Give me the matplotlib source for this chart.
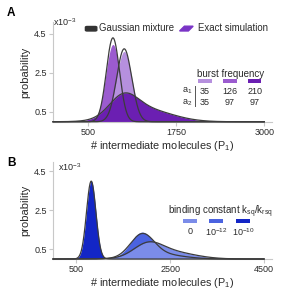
import numpy as np
import matplotlib
matplotlib.use('Agg')
import matplotlib.pyplot as plt
from matplotlib.patches import Rectangle, Polygon, FancyBboxPatch

plt.rcParams['font.family'] = ['Liberation Sans', 'DejaVu Sans']
plt.rcParams['mathtext.fontset'] = 'custom'
plt.rcParams['mathtext.rm'] = 'Liberation Sans'
plt.rcParams['mathtext.it'] = 'Liberation Sans:italic'
plt.rcParams['mathtext.bf'] = 'Liberation Sans:bold'

# ---------------- Panel A data (burst frequency) ----------------
a1_vals = ['35', '126', '210']
a2_vals = ['35', '97', '97']
a_colors = ['#b690de', '#9b5bcf', '#6b1fb2']
# Gaussian mixture components: means, sds, weights (probability in units of 1e-3)
a_gm_means = [[1011], [851], [1000, 1300]]
a_gm_sds = [[107], [93], [200, 380]]
a_gm_weights = [[1.0], [1.0], [0.5, 0.6]]
# exact simulation (fitted to the filled areas)
a_sim_means = [[1011], [851], [1000, 1300]]
a_sim_sds = [[111], [101], [200, 380]]
a_sim_weights = [[1.0], [1.0], [0.5, 0.6]]
a_draw_order = [1, 0, 2]
a_xticks = [500, 1750, 3000]

# ---------------- Panel B data (binding constant) ----------------
b_labels = ['0', '10$^{-12}$', '10$^{-10}$']
b_colors = ['#7b8ce9', '#4b63e0', '#1326c6']
b_gm_means = [[2020, 2450], [1900, 2250], [815]]
b_gm_sds = [[300, 520], [250, 480], [100]]
b_gm_weights = [[0.45, 0.5], [0.7, 0.3], [1.0]]
b_sim_means = [[2020, 2450], [1890, 2250], [815]]
b_sim_sds = [[300, 520], [235, 480], [100]]
b_sim_weights = [[0.45, 0.5], [0.7, 0.3], [1.0]]
b_draw_order = [1, 0, 2]
b_xticks = [500, 2500, 4500]

yticks = [0.5, 2.5, 4.5]


def mixture(x, means, sds, weights):
    y = np.zeros_like(x)
    for m, s, w in zip(means, sds, weights):
        y += w / (s * np.sqrt(2 * np.pi)) * np.exp(-(x - m) ** 2 / (2 * s ** 2))
    return y * 1e3


fig = plt.figure(figsize=(2.92, 2.96), dpi=100)
W, H = 292, 296


def px_axes(l, t, r, b):
    return fig.add_axes([l / W, 1 - b / H, (r - l) / W, (b - t) / H])


axA = px_axes(53, 22, 272, 121.75)
axB = px_axes(53, 162, 272, 259)

line_col = '#3c3c3c'
spine_col = '#c8c8c8'
txt_col = '#2a2a2a'


def style(ax, xmax, ymax, xticks):
    ax.set_xlim(0, xmax)
    ax.set_ylim(0, ymax)
    for s in ['top', 'right']:
        ax.spines[s].set_visible(False)
    for s in ['left', 'bottom']:
        ax.spines[s].set_color(spine_col)
        ax.spines[s].set_linewidth(0.8)
    ax.set_xticks(xticks)
    ax.set_xticklabels([str(t) for t in xticks])
    ax.set_yticks(yticks)
    ax.set_yticklabels([str(t) for t in yticks])
    ax.tick_params(axis='both', colors=spine_col, labelcolor=txt_col,
                   length=3, width=0.8, labelsize=6.5, pad=1.5)
    ax.set_ylabel('probability', fontsize=8, color=txt_col, labelpad=3)
    ax.set_xlabel('# intermediate molecules (P$_1$)', fontsize=7.8,
                  color=txt_col, labelpad=1.5)


# Panel A
xA = np.linspace(0, 3000, 1500)
for i in a_draw_order:
    ys = mixture(xA, a_sim_means[i], a_sim_sds[i], a_sim_weights[i])
    axA.fill_between(xA, 0, ys, color=a_colors[i], lw=0, zorder=2)
for i in a_draw_order:
    yg = mixture(xA, a_gm_means[i], a_gm_sds[i], a_gm_weights[i])
    axA.plot(xA, yg, color=line_col, lw=0.9, zorder=3, clip_on=False)
style(axA, 3110, 5.1, a_xticks)

# Panel B
xB = np.linspace(0, 4500, 1500)
for i in b_draw_order:
    ys = mixture(xB, b_sim_means[i], b_sim_sds[i], b_sim_weights[i])
    axB.fill_between(xB, 0, ys, color=b_colors[i], lw=0, zorder=2)
for i in b_draw_order:
    yg = mixture(xB, b_gm_means[i], b_gm_sds[i], b_gm_weights[i])
    axB.plot(xB, yg, color=line_col, lw=0.9, zorder=3, clip_on=False)
style(axB, 4670, 4.97, b_xticks)

# multiplier texts
axA.text(0.0, 1.0, 'x10$^{-3}$', transform=axA.transAxes, fontsize=6.5,
         ha='left', va='center', color=txt_col)
axB.text(0.025, 0.95, 'x10$^{-3}$', transform=axB.transAxes, fontsize=6.5,
         ha='left', va='center', color=txt_col)

# panel letters
fig.text(7 / W, 1 - 12.5 / H, 'A', fontsize=8.5, fontweight='bold', ha='left', va='center')
fig.text(7 / W, 1 - 163 / H, 'B', fontsize=8.5, fontweight='bold', ha='left', va='center')

# legend in A
tA = axA.transAxes
axA.add_patch(FancyBboxPatch((0.148, 0.91), 0.052, 0.045,
                             boxstyle='round,pad=0,rounding_size=0.008',
                             transform=tA, color='#333333', clip_on=False, zorder=5))
axA.text(0.208, 0.935, 'Gaussian mixture', transform=tA, fontsize=6.9,
         ha='left', va='center', color=txt_col)
axA.add_patch(Polygon([[0.578, 0.91], [0.618, 0.91], [0.64, 0.958], [0.6, 0.958]],
                      closed=True, transform=tA, color='#7a34c6', clip_on=False, zorder=5))
axA.text(0.662, 0.935, 'Exact simulation', transform=tA, fontsize=6.9,
         ha='left', va='center', color=txt_col)

# burst frequency table
axA.text(0.813, 0.479, 'burst frequency', transform=tA, fontsize=7,
         ha='center', va='center', color=txt_col)
bar_x = [0.694, 0.808, 0.922]
for cx, c in zip(bar_x, a_colors):
    axA.add_patch(Rectangle((cx - 0.03, 0.39), 0.06, 0.04, transform=tA,
                            color=c, lw=0, zorder=5))
axA.text(0.612, 0.308, 'a$_1$', transform=tA, fontsize=6.5, ha='center', va='center', color=txt_col)
axA.text(0.612, 0.188, 'a$_2$', transform=tA, fontsize=6.5, ha='center', va='center', color=txt_col)
axA.plot([0.648, 0.648], [0.158, 0.358], transform=tA, color='#555555', lw=0.7)
for cx, v1, v2 in zip(bar_x, a1_vals, a2_vals):
    axA.text(cx, 0.308, v1, transform=tA, fontsize=6.5, ha='center', va='center', color=txt_col)
    axA.text(cx, 0.188, v2, transform=tA, fontsize=6.5, ha='center', va='center', color=txt_col)

# binding constant legend in B
tB = axB.transAxes
axB.text(0.763, 0.485, r'binding constant $\mathrm{k_{sq}/k_{rsq}}$', transform=tB,
         fontsize=7, ha='center', va='center', color=txt_col)
bx = [0.626, 0.744, 0.868]
for cx, c, lab in zip(bx, b_colors, b_labels):
    axB.add_patch(Rectangle((cx - 0.032, 0.372), 0.064, 0.041, transform=tB,
                            color=c, lw=0, zorder=5))
    axB.text(cx, 0.279, lab, transform=tB, fontsize=6.5, ha='center', va='center', color=txt_col)

fig.savefig('out.png', dpi=100)
